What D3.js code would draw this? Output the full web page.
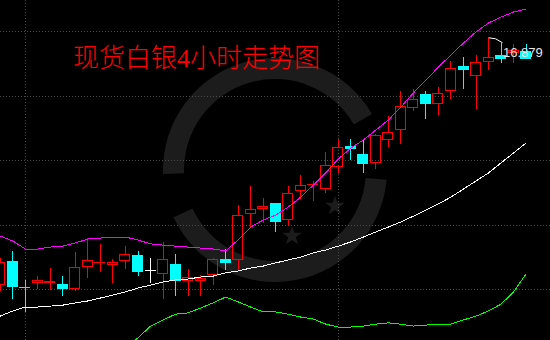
<!DOCTYPE html>
<html>
<head>
<meta charset="utf-8">
<script src="https://cdn.jsdelivr.net/npm/d3@7"></script>
<style>
  html, body { margin: 0; padding: 0; background: #000; }
  svg { display: block; }
</style>
</head>
<body>
<div id="chart"></div>
<script>
// 4h candles, oldest first
let opens  = [16.112,16.187,16.107,16.119,16.119,16.116,16.100,16.168,16.183,16.174,16.187,16.205,16.159,16.147,16.178,16.125,16.125,16.143,16.193,16.190,16.333,16.348,16.367,16.314,16.404,16.422,16.410,16.478,16.543,16.519,16.491,16.562,16.593,16.661,16.705,16.674,16.714,16.791,16.760,16.804,16.826,16.832,16.838];
let highs  = [16.196,16.218,16.128,16.140,16.165,16.140,16.215,16.258,16.240,16.193,16.233,16.218,16.196,16.246,16.209,16.162,16.143,16.196,16.224,16.360,16.419,16.382,16.367,16.419,16.453,16.435,16.525,16.565,16.565,16.565,16.581,16.636,16.714,16.720,16.714,16.726,16.807,16.819,16.826,16.879,16.863,16.860,16.860];
let lows   = [16.094,16.069,16.029,16.100,16.097,16.078,16.094,16.134,16.153,16.119,16.162,16.140,16.119,16.069,16.078,16.078,16.078,16.112,16.159,16.159,16.292,16.305,16.277,16.298,16.379,16.373,16.398,16.460,16.500,16.460,16.472,16.540,16.550,16.652,16.627,16.640,16.689,16.720,16.658,16.779,16.801,16.801,16.813];
let closes = [16.184,16.106,16.106,16.128,16.125,16.100,16.168,16.190,16.184,16.184,16.209,16.153,16.159,16.193,16.125,16.137,16.134,16.193,16.181,16.329,16.348,16.357,16.308,16.398,16.422,16.426,16.484,16.540,16.534,16.488,16.578,16.587,16.667,16.689,16.674,16.708,16.785,16.779,16.804,16.819,16.813,16.841,16.813];

// bollinger bands
let upper = [16.264,16.249,16.224,16.224,16.230,16.233,16.243,16.255,16.258,16.261,16.261,16.252,16.240,16.236,16.233,16.230,16.227,16.224,16.218,16.252,16.292,16.314,16.329,16.354,16.385,16.422,16.460,16.503,16.537,16.562,16.593,16.624,16.664,16.708,16.748,16.788,16.826,16.863,16.897,16.925,16.943,16.959,16.968];
let mid   = [16.016,16.032,16.044,16.044,16.047,16.050,16.057,16.063,16.072,16.081,16.091,16.103,16.112,16.122,16.128,16.131,16.137,16.140,16.150,16.156,16.165,16.171,16.181,16.190,16.199,16.212,16.221,16.233,16.246,16.261,16.277,16.292,16.308,16.326,16.345,16.364,16.385,16.410,16.435,16.460,16.491,16.522,16.553];
let lower = [15.768,15.815,15.864,15.864,15.864,15.867,15.871,15.871,15.886,15.902,15.920,15.948,15.985,16.004,16.022,16.026,16.041,16.057,16.075,16.060,16.044,16.029,16.029,16.022,16.013,16.007,15.991,15.982,15.982,15.985,15.991,15.995,15.991,15.985,15.988,15.991,15.991,16.004,16.016,16.032,16.053,16.091,16.147];

let gridPrices = [16.1, 16.3, 16.5, 16.7, 16.9];
let gridBars = [2, 27];
let title = "现货白银4小时走势图";

let width = 550, height = 340;

let x = d3.scaleLinear().domain([0, opens.length - 1]).range([0.3, 526.1]);
let y = d3.scaleLinear().domain([16.1, 16.9]).range([289, 31]);

let svg = d3.select("#chart").append("svg")
    .attr("width", width)
    .attr("height", height)
    .attr("viewBox", [0, 0, width, height]);

svg.append("rect").attr("width", width).attr("height", height).attr("fill", "#000");

// watermark ring
let wm = svg.append("g").attr("transform", "translate(275,170)").attr("fill", "#1c1c1c");
let arc = d3.arc().innerRadius(91).outerRadius(112);
[[-92, 60], [95, 245]].forEach(a => {
    wm.append("path").attr("d", arc({startAngle: a[0] * Math.PI / 180, endAngle: a[1] * Math.PI / 180}));
});
[[17, 66], [60, 36]].forEach(p => {
    wm.append("path")
        .attr("transform", "translate(" + p[0] + "," + p[1] + ")")
        .attr("d", d3.symbol(d3.symbolStar, 120)());
});

// dotted grid
let grid = svg.append("g")
    .attr("stroke", "#4a4a4a")
    .attr("stroke-dasharray", "1,2")
    .attr("shape-rendering", "crispEdges");
gridPrices.forEach(p => {
    let yy = Math.round(y(p)) + 0.5;
    grid.append("line").attr("x1", 0).attr("x2", width).attr("y1", yy).attr("y2", yy);
});
gridBars.forEach(i => {
    let xx = Math.floor(x(i)) + 0.5;
    grid.append("line").attr("x1", xx).attr("x2", xx).attr("y1", 0).attr("y2", height);
});

// candles
let candles = svg.append("g").attr("shape-rendering", "crispEdges");
opens.forEach((o, i) => {
    let c = closes[i];
    let cx = Math.floor(x(i)) + 0.5;
    let left = Math.floor(x(i) - 5.5);
    let top = Math.round(y(Math.max(o, c)));
    let bot = Math.round(y(Math.min(o, c)));
    let yh = Math.round(y(highs[i])), yl = Math.round(y(lows[i]));
    let col = c > o ? "#ff0000" : (c < o ? "#00ffff" : "#ffffff");
    let g = candles.append("g").attr("stroke", col);

    if (c > o && bot - top >= 2) {
        // hollow up candle, wick stops at the body
        g.append("line").attr("x1", cx).attr("x2", cx).attr("y1", yh).attr("y2", top);
        g.append("line").attr("x1", cx).attr("x2", cx).attr("y1", bot).attr("y2", yl);
        g.append("rect")
            .attr("x", left + 0.5).attr("y", top + 0.5)
            .attr("width", 10).attr("height", bot - top - 1)
            .attr("fill", "none");
    } else {
        g.append("line").attr("x1", cx).attr("x2", cx).attr("y1", yh).attr("y2", yl);
        if (bot - top >= 2) {
            g.append("rect")
                .attr("x", left).attr("y", top)
                .attr("width", 11).attr("height", bot - top)
                .attr("stroke", "none").attr("fill", col);
        } else {
            g.append("line")
                .attr("x1", left).attr("x2", left + 11)
                .attr("y1", top + 0.5).attr("y2", top + 0.5);
        }
    }
});

// bands
let line = d3.line().x((d, i) => x(i)).y(d => y(d));
[[upper, "#ff00ff"], [mid, "#ffffff"], [lower, "#00ff00"]].forEach(b => {
    svg.append("path")
        .attr("d", line(b[0]))
        .attr("fill", "none")
        .attr("stroke", b[1])
        .attr("stroke-width", 1)
        .attr("shape-rendering", "crispEdges");
});

// highest price marker
let hi = d3.maxIndex(highs);
let hx = x(hi), hy = y(highs[hi]);
svg.append("polyline")
    .attr("points", [[hx, hy], [hx + 7, hy + 1], [hx + 14, hy + 5]].map(p => p.join(",")).join(" "))
    .attr("fill", "none")
    .attr("stroke", "#ffffff");
svg.append("text")
    .attr("x", hx + 14.5)
    .attr("y", hy + 19)
    .attr("fill", "#e6e6e6")
    .attr("font-family", "'Liberation Sans', Arial, sans-serif")
    .attr("font-size", 13)
    .text(d3.format(".3f")(highs[hi]));

// title
svg.append("text")
    .attr("x", 73)
    .attr("y", 67)
    .attr("fill", "#ff0000")
    .attr("font-family", "'Liberation Serif', 'Noto Sans CJK SC', serif")
    .attr("font-weight", 300)
    .attr("font-size", 26)
    .text(title);
</script>
</body>
</html>
